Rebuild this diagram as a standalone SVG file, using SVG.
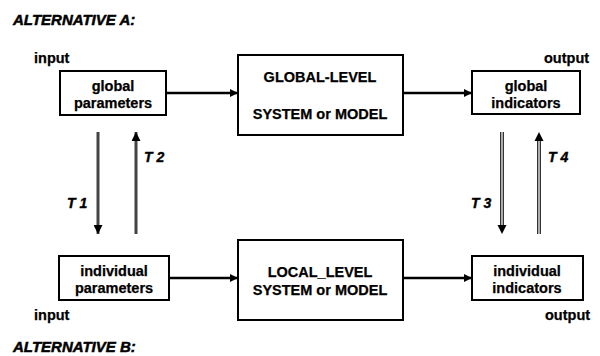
<svg xmlns="http://www.w3.org/2000/svg" width="600" height="356" viewBox="0 0 600 356">
<style>
text{font-family:"Liberation Sans",Arial,sans-serif;font-weight:bold;fill:#000;stroke:#000;stroke-width:0.25}
.t{font-size:14.5px;text-anchor:middle}
.lbl{font-size:14.5px}
.hd{font-size:15px;font-style:italic;stroke-width:0.5}
.tl{font-size:14px;font-style:italic;stroke-width:0.4}
.box{fill:#fff;stroke:#000;stroke-width:2}
.h{stroke:#000;stroke-width:2.5;fill:none}
.v{stroke:#444;stroke-width:3;fill:none}
.vd{stroke:#333;stroke-width:4;fill:none}
.vw{stroke:#fff;stroke-width:1.2;fill:none}
</style>
<defs>
<marker id="ah" markerWidth="8" markerHeight="8" refX="8" refY="4" orient="auto" markerUnits="userSpaceOnUse">
<path d="M0,0 L8,4 L0,8 Z" fill="#000"/>
</marker>
<marker id="av" markerWidth="9" markerHeight="9" refX="9" refY="4.5" orient="auto" markerUnits="userSpaceOnUse">
<path d="M0,0 L9,4.5 L0,9 Z" fill="#000"/>
</marker>
</defs>
<text class="hd" x="13" y="25">ALTERNATIVE A:</text>
<text class="hd" x="13" y="352">ALTERNATIVE B:</text>
<text class="lbl" x="34" y="63">input</text>
<text class="lbl" x="544" y="63">output</text>
<text class="lbl" x="34" y="320">input</text>
<text class="lbl" x="545" y="320">output</text>
<g id="connectors">
<line class="h" x1="166" y1="93" x2="238" y2="93" marker-end="url(#ah)"/>
<line class="h" x1="403" y1="93" x2="472" y2="93" marker-end="url(#ah)"/>
<line class="h" x1="169" y1="278" x2="238" y2="278" marker-end="url(#ah)"/>
<line class="h" x1="403" y1="278" x2="472" y2="278" marker-end="url(#ah)"/>
<g id="T1"><line class="v" x1="98" y1="132" x2="98" y2="234" marker-end="url(#av)"/><text class="tl" x="67" y="208">T 1</text></g>
<g id="T2"><line class="v" x1="136" y1="234" x2="136" y2="132" marker-end="url(#av)"/><text class="tl" x="144" y="162">T 2</text></g>
<g id="T3"><line class="vd" x1="502" y1="132" x2="502" y2="226"/><line class="vw" x1="502" y1="132" x2="502" y2="226"/><path d="M497.5,225 L506.5,225 L502,234 Z" fill="#000"/><text class="tl" x="471" y="208">T 3</text></g>
<g id="T4"><line class="vd" x1="539" y1="234" x2="539" y2="140"/><line class="vw" x1="539" y1="234" x2="539" y2="140"/><path d="M534.5,141 L543.5,141 L539,132 Z" fill="#000"/><text class="tl" x="548" y="162">T 4</text></g>
</g>
<g id="global-parameters"><rect class="box" x="60" y="71" width="106" height="44"/><text class="t" x="113" y="91">global</text><text class="t" x="113" y="108">parameters</text></g>
<g id="global-model"><rect class="box" x="238" y="55" width="165" height="80"/><text class="t" x="320" y="82">GLOBAL-LEVEL</text><text class="t" x="320" y="119">SYSTEM or MODEL</text></g>
<g id="global-indicators"><rect class="box" x="472" y="71" width="108" height="43"/><text class="t" x="526" y="91">global</text><text class="t" x="526" y="108">indicators</text></g>
<g id="individual-parameters"><rect class="box" x="59" y="256" width="110" height="44"/><text class="t" x="114" y="276">individual</text><text class="t" x="114" y="293">parameters</text></g>
<g id="local-model"><rect class="box" x="238" y="240" width="165" height="80"/><text class="t" x="320" y="277">LOCAL_LEVEL</text><text class="t" x="320" y="295">SYSTEM or MODEL</text></g>
<g id="individual-indicators"><rect class="box" x="472" y="256" width="111" height="44"/><text class="t" x="527" y="276">individual</text><text class="t" x="527" y="293">indicators</text></g>
</svg>
